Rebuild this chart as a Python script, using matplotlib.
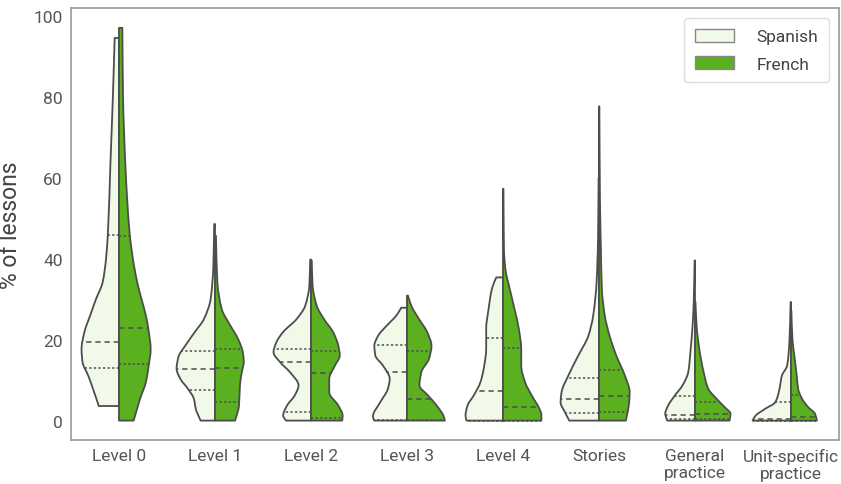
import numpy as np
import matplotlib.pyplot as plt
from matplotlib.path import Path
from matplotlib.patches import PathPatch, Patch

plt.rcParams['font.family'] = ['Roboto', 'DejaVu Sans']

categories = ["Level 0", "Level 1", "Level 2", "Level 3", "Level 4",
              "Stories", "General\npractice", "Unit-specific\npractice"]

# half-violin outlines: (value, density half-width), bottom to top
lvl0_es = [(3.6, 0.21), (7.8, 0.27), (11.1, 0.32), (14.5, 0.38), (17.7, 0.39), (21.9, 0.36),
           (26, 0.30), (30, 0.24), (34.2, 0.17), (40, 0.135), (46.6, 0.115), (63, 0.09),
           (80.5, 0.063), (94.6, 0.045)]
lvl0_fr = [(0, 0.153), (5.4, 0.22), (9.5, 0.28), (13.6, 0.31), (17.7, 0.33), (22, 0.31),
           (26, 0.28), (30, 0.235), (34.2, 0.19), (40, 0.145), (46.6, 0.11), (63, 0.067),
           (80.5, 0.042), (97.1, 0.035)]
lvl1_es = [(0, 0.15), (2.9, 0.20), (5.4, 0.22), (7.8, 0.28), (10.3, 0.36), (12.8, 0.40),
           (15.8, 0.38), (18.5, 0.31), (21.9, 0.21), (25.1, 0.115), (30.1, 0.045),
           (38.3, 0.017), (48.6, 0.008)]
lvl1_fr = [(0, 0.21), (3.7, 0.25), (8.7, 0.26), (12, 0.28), (14.5, 0.30), (16.9, 0.29),
           (20.2, 0.24), (23.5, 0.16), (27.6, 0.07), (34.2, 0.025), (45.7, 0.01)]
lvl2_es = [(0, 0.26), (1.2, 0.29), (3.7, 0.25), (6.2, 0.17), (8.7, 0.13), (12, 0.22),
           (14.4, 0.32), (16.9, 0.39), (19.4, 0.36), (21.9, 0.29), (25.1, 0.15),
           (28.4, 0.06), (33.4, 0.017), (39.8, 0.008)]
lvl2_fr = [(0, 0.325), (1.2, 0.33), (3.7, 0.285), (7, 0.19), (10.3, 0.19), (13.6, 0.25),
           (16.1, 0.30), (18.5, 0.285), (21.9, 0.23), (25.1, 0.135), (28.4, 0.06),
           (33.4, 0.017), (39.6, 0.008)]
lvl3_es = [(0, 0.34), (1.0, 0.355), (4.5, 0.28), (7.8, 0.20), (10.3, 0.18), (13.6, 0.25),
           (16.1, 0.33), (18.5, 0.34), (21, 0.30), (23.5, 0.21), (26, 0.11), (27.9, 0.06)]
lvl3_fr = [(0, 0.395), (1.2, 0.38), (3.7, 0.31), (6.2, 0.22), (8.7, 0.13), (12, 0.15),
           (15.3, 0.23), (18.5, 0.255), (21.9, 0.21), (25.1, 0.125), (28.4, 0.045), (30.9, 0.01)]
lvl4_es = [(0, 0.38), (1.2, 0.39), (3.7, 0.37), (6.2, 0.305), (9.5, 0.235), (13.6, 0.195),
           (17.7, 0.175), (22.7, 0.175), (27.6, 0.15), (32.6, 0.115), (35.4, 0.07)]
lvl4_fr = [(0, 0.40), (1.5, 0.40), (2.9, 0.38), (6.2, 0.30), (9.5, 0.23), (13.6, 0.19),
           (17.7, 0.19), (22.7, 0.165), (27.6, 0.12), (32.6, 0.07), (37.5, 0.025),
           (42.5, 0.01), (57.3, 0.005)]
stories_es = [(0, 0.31), (2.1, 0.355), (4.5, 0.40), (7, 0.39), (11.1, 0.32), (16.1, 0.215),
              (21, 0.11), (26, 0.06), (34.2, 0.025), (45, 0.01), (60, 0.004)]
stories_fr = [(0, 0.28), (1.2, 0.29), (3.7, 0.31), (7, 0.32), (11.1, 0.27), (16.1, 0.18),
              (21, 0.11), (26, 0.06), (32.6, 0.03), (42.5, 0.02), (55, 0.01), (77.7, 0.004)]
general_es = [(0, 0.29), (1.7, 0.31), (3.7, 0.28), (6.2, 0.21), (8.7, 0.13), (12, 0.07),
              (17.7, 0.045), (23.5, 0.025), (30, 0.012), (39.6, 0.004)]
general_fr = [(0, 0.36), (1.7, 0.37), (3.3, 0.31), (5.4, 0.225), (7.8, 0.14), (12, 0.09),
              (17.7, 0.045), (23.5, 0.017), (29.3, 0.005)]
unit_es = [(0, 0.40), (1.2, 0.37), (2.9, 0.27), (4.5, 0.165), (7.8, 0.12), (11.1, 0.095),
           (13.6, 0.04), (20.2, 0.015), (29.3, 0.004)]
unit_fr = [(0, 0.27), (1.7, 0.25), (3.3, 0.18), (5.4, 0.115), (7.8, 0.075), (11.1, 0.06),
           (16.1, 0.035), (20.2, 0.015), (27.2, 0.004)]

spanish_shapes = [lvl0_es, lvl1_es, lvl2_es, lvl3_es, lvl4_es, stories_es, general_es, unit_es]
french_shapes = [lvl0_fr, lvl1_fr, lvl2_fr, lvl3_fr, lvl4_fr, stories_fr, general_fr, unit_fr]

# quartiles
spanish_q1 = [13.0, 7.6, 2.2, 0.2, 0.0, 1.8, 0.4, 0.0]
spanish_med = [19.4, 12.8, 14.4, 12.0, 7.3, 5.4, 1.5, 0.3]
spanish_q3 = [46.0, 17.3, 17.7, 18.7, 20.4, 10.6, 6.0, 4.5]
french_q1 = [14.0, 4.5, 0.6, 0.2, 0.0, 2.1, 0.4, 0.0]
french_med = [22.9, 13.0, 11.8, 5.4, 3.4, 6.2, 1.7, 1.0]
french_q3 = [45.7, 17.7, 17.1, 17.1, 18.0, 12.6, 4.5, 6.4]

light = "#f1f9e9"
green = "#5ab01f"
edge = "#4d4d4d"


def pchip_slopes(y, w):
    h = np.diff(y)
    d = np.diff(w) / h
    m = np.zeros_like(w)
    for i in range(1, len(w) - 1):
        if d[i - 1] * d[i] > 0:
            w1 = 2 * h[i] + h[i - 1]
            w2 = h[i] + 2 * h[i - 1]
            m[i] = (w1 + w2) / (w1 / d[i - 1] + w2 / d[i])
    m[0], m[-1] = d[0], d[-1]
    return m


def outline(x, y, w, side):
    # width as a smooth function of value, one cubic bezier per knot interval
    m = pchip_slopes(y, w)
    verts = []
    for i in range(len(y) - 1):
        h = y[i + 1] - y[i]
        verts += [(x + side * (w[i] + m[i] * h / 3), y[i] + h / 3),
                  (x + side * (w[i + 1] - m[i + 1] * h / 3), y[i + 1] - h / 3),
                  (x + side * w[i + 1], y[i + 1])]
    return verts


def half_violin(ax, x, shape, side, color, qs):
    ys = np.array([s[0] for s in shape], float)
    ws = np.array([s[1] for s in shape], float)
    curve = outline(x, ys, ws, side)
    verts = [(x, ys[0]), (x + side * ws[0], ys[0])] + curve + [(x, ys[-1]), (x, ys[0]), (x, ys[0])]
    codes = [Path.MOVETO, Path.LINETO] + [Path.CURVE4] * len(curve) + [Path.LINETO, Path.LINETO, Path.CLOSEPOLY]
    ax.add_patch(PathPatch(Path(verts, codes), facecolor=color, edgecolor=edge,
                           lw=1.3, joinstyle='round', zorder=2))
    q1, med, q3 = qs
    for q, dash in [(q1, [1.5, 1.5]), (med, [3.5, 2.5]), (q3, [1.5, 1.5])]:
        w = np.interp(q, ys, ws)
        ax.plot([x, x + side * w], [q, q], color=edge, lw=1.1, dashes=dash, zorder=3,
                solid_capstyle='butt', dash_capstyle='butt')


fig = plt.figure(figsize=(8.41, 4.85), dpi=100)
ax = fig.add_axes([0.0844, 0.0907, 0.9132, 0.8907])

for i in range(len(categories)):
    half_violin(ax, i, spanish_shapes[i], -1, light, (spanish_q1[i], spanish_med[i], spanish_q3[i]))
    half_violin(ax, i, french_shapes[i], 1, green, (french_q1[i], french_med[i], french_q3[i]))

ax.set_xlim(-0.5, len(categories) - 0.5)
ax.set_ylim(-4.8, 102)
ax.set_xticks(range(len(categories)))
ax.set_xticklabels(categories, linespacing=1.15)
ax.set_yticks([0, 20, 40, 60, 80, 100])
ax.tick_params(length=0, labelsize=12.5, labelcolor="#555555", pad=6)
ax.set_ylabel("% of lessons", fontsize=16.5, color="#444444", labelpad=8)
for s in ax.spines.values():
    s.set_color("#999999")
    s.set_linewidth(1.2)

handles = [Patch(facecolor=light, edgecolor="#888888", label="Spanish"),
           Patch(facecolor=green, edgecolor="#888888", label="French")]
leg = ax.legend(handles=handles, loc="upper right", fontsize=12.5, handlelength=2.25,
                handleheight=0.75, borderpad=0.6, labelspacing=0.7, handletextpad=1.3,
                framealpha=1, edgecolor="#dddddd", borderaxespad=0.6)
for t in leg.get_texts():
    t.set_color("#444444")

fig.savefig("out.png", dpi=100)
